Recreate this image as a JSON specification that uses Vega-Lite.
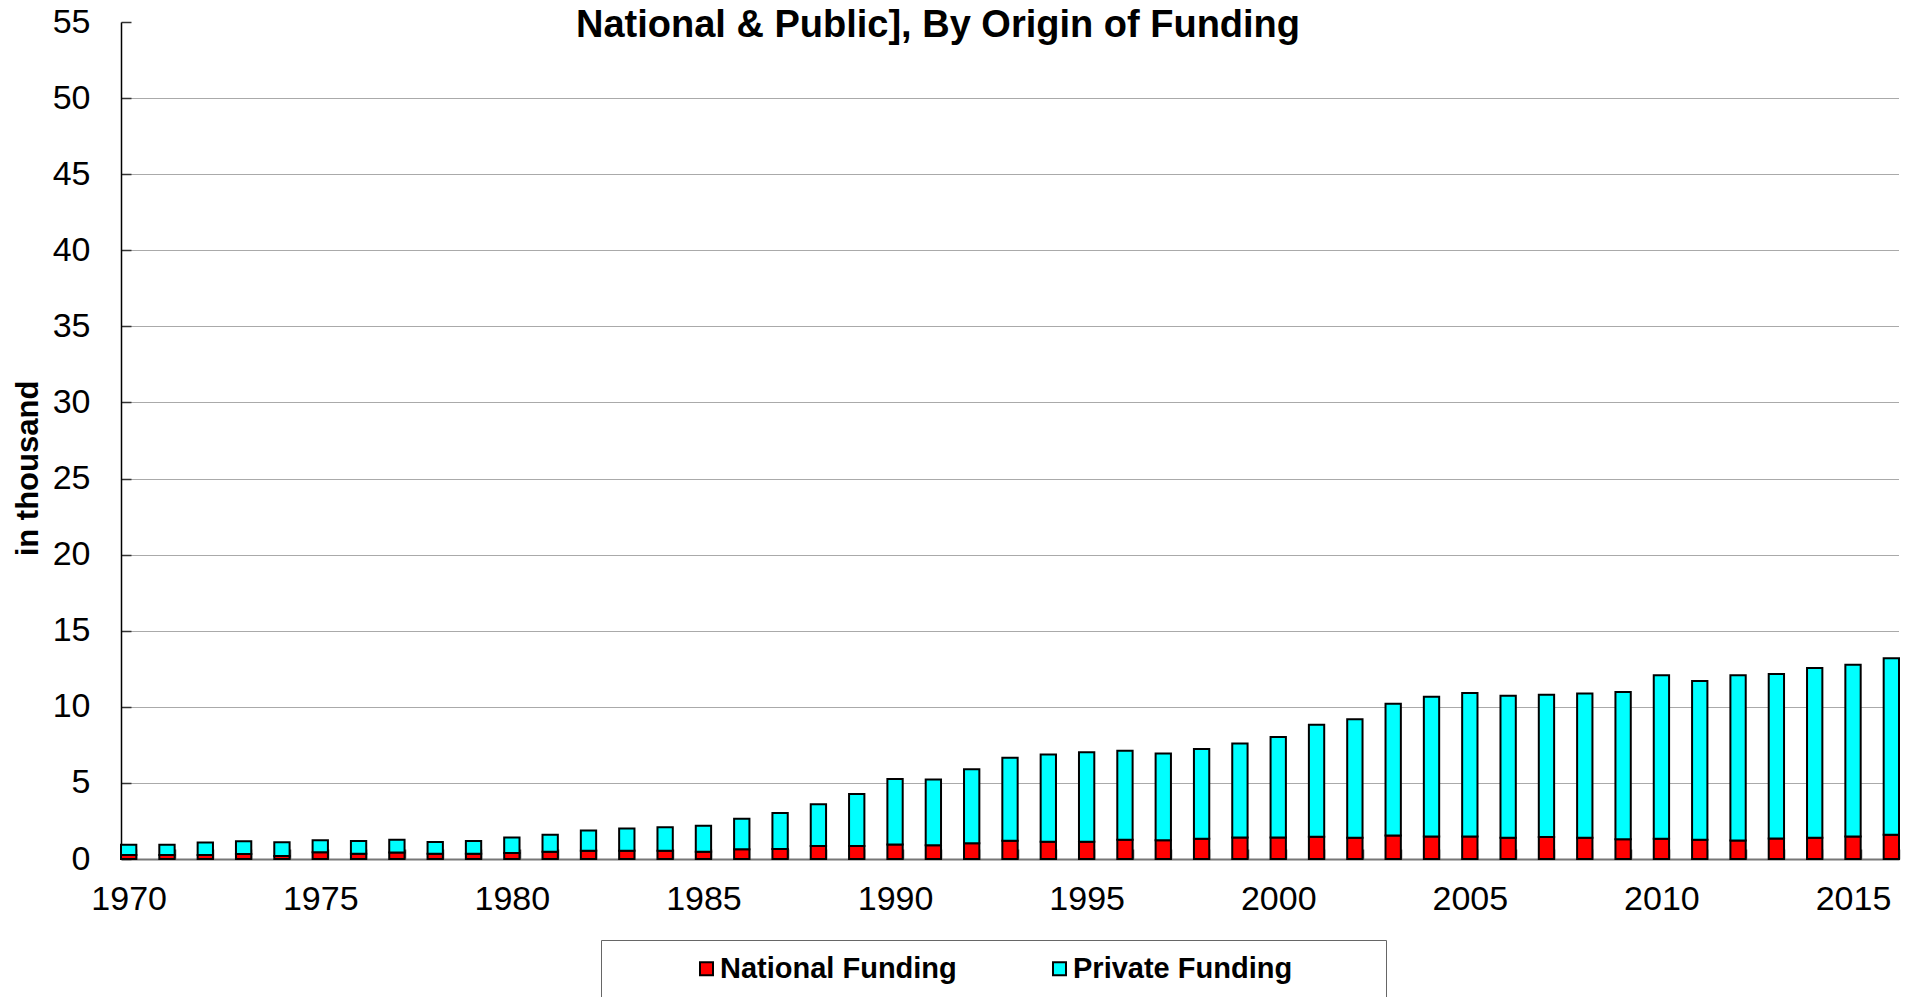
{
  "$schema": "https://vega.github.io/schema/vega-lite/v6.json",
  "width": 1778,
  "height": 837,
  "autosize": "none",
  "padding": {"left": 121, "top": 22, "right": 10, "bottom": 138},
  "background": "white",
  "title": {"text": "National & Public], By Origin of Funding", "font": "Liberation Sans", "fontSize": 38, "fontWeight": "bold", "color": "black", "anchor": "middle", "frame": "group", "baseline": "alphabetic", "offset": 0, "dy": 70, "dx": -72},
  "config": {"view": {"stroke": null}},
  "data": {"values": [
    {"year": 1970, "source": "National Funding", "value": 0.26}, {"year": 1970, "source": "Private Funding", "value": 0.67},
    {"year": 1971, "source": "National Funding", "value": 0.26}, {"year": 1971, "source": "Private Funding", "value": 0.67},
    {"year": 1972, "source": "National Funding", "value": 0.26}, {"year": 1972, "source": "Private Funding", "value": 0.82},
    {"year": 1973, "source": "National Funding", "value": 0.33}, {"year": 1973, "source": "Private Funding", "value": 0.84},
    {"year": 1974, "source": "National Funding", "value": 0.20}, {"year": 1974, "source": "Private Funding", "value": 0.90},
    {"year": 1975, "source": "National Funding", "value": 0.44}, {"year": 1975, "source": "Private Funding", "value": 0.79},
    {"year": 1976, "source": "National Funding", "value": 0.35}, {"year": 1976, "source": "Private Funding", "value": 0.84},
    {"year": 1977, "source": "National Funding", "value": 0.42}, {"year": 1977, "source": "Private Funding", "value": 0.84},
    {"year": 1978, "source": "National Funding", "value": 0.35}, {"year": 1978, "source": "Private Funding", "value": 0.77},
    {"year": 1979, "source": "National Funding", "value": 0.35}, {"year": 1979, "source": "Private Funding", "value": 0.84},
    {"year": 1980, "source": "National Funding", "value": 0.40}, {"year": 1980, "source": "Private Funding", "value": 1.01},
    {"year": 1981, "source": "National Funding", "value": 0.48}, {"year": 1981, "source": "Private Funding", "value": 1.11},
    {"year": 1982, "source": "National Funding", "value": 0.55}, {"year": 1982, "source": "Private Funding", "value": 1.32},
    {"year": 1983, "source": "National Funding", "value": 0.55}, {"year": 1983, "source": "Private Funding", "value": 1.45},
    {"year": 1984, "source": "National Funding", "value": 0.55}, {"year": 1984, "source": "Private Funding", "value": 1.54},
    {"year": 1985, "source": "National Funding", "value": 0.48}, {"year": 1985, "source": "Private Funding", "value": 1.70},
    {"year": 1986, "source": "National Funding", "value": 0.64}, {"year": 1986, "source": "Private Funding", "value": 2.00},
    {"year": 1987, "source": "National Funding", "value": 0.65}, {"year": 1987, "source": "Private Funding", "value": 2.37},
    {"year": 1988, "source": "National Funding", "value": 0.85}, {"year": 1988, "source": "Private Funding", "value": 2.74},
    {"year": 1989, "source": "National Funding", "value": 0.85}, {"year": 1989, "source": "Private Funding", "value": 3.42},
    {"year": 1990, "source": "National Funding", "value": 0.96}, {"year": 1990, "source": "Private Funding", "value": 4.29},
    {"year": 1991, "source": "National Funding", "value": 0.90}, {"year": 1991, "source": "Private Funding", "value": 4.33},
    {"year": 1992, "source": "National Funding", "value": 1.03}, {"year": 1992, "source": "Private Funding", "value": 4.86},
    {"year": 1993, "source": "National Funding", "value": 1.20}, {"year": 1993, "source": "Private Funding", "value": 5.45},
    {"year": 1994, "source": "National Funding", "value": 1.14}, {"year": 1994, "source": "Private Funding", "value": 5.73},
    {"year": 1995, "source": "National Funding", "value": 1.14}, {"year": 1995, "source": "Private Funding", "value": 5.88},
    {"year": 1996, "source": "National Funding", "value": 1.27}, {"year": 1996, "source": "Private Funding", "value": 5.84},
    {"year": 1997, "source": "National Funding", "value": 1.23}, {"year": 1997, "source": "Private Funding", "value": 5.71},
    {"year": 1998, "source": "National Funding", "value": 1.33}, {"year": 1998, "source": "Private Funding", "value": 5.89},
    {"year": 1999, "source": "National Funding", "value": 1.42}, {"year": 1999, "source": "Private Funding", "value": 6.17},
    {"year": 2000, "source": "National Funding", "value": 1.42}, {"year": 2000, "source": "Private Funding", "value": 6.59},
    {"year": 2001, "source": "National Funding", "value": 1.47}, {"year": 2001, "source": "Private Funding", "value": 7.35},
    {"year": 2002, "source": "National Funding", "value": 1.40}, {"year": 2002, "source": "Private Funding", "value": 7.79},
    {"year": 2003, "source": "National Funding", "value": 1.55}, {"year": 2003, "source": "Private Funding", "value": 8.65},
    {"year": 2004, "source": "National Funding", "value": 1.48}, {"year": 2004, "source": "Private Funding", "value": 9.18},
    {"year": 2005, "source": "National Funding", "value": 1.48}, {"year": 2005, "source": "Private Funding", "value": 9.42},
    {"year": 2006, "source": "National Funding", "value": 1.40}, {"year": 2006, "source": "Private Funding", "value": 9.32},
    {"year": 2007, "source": "National Funding", "value": 1.44}, {"year": 2007, "source": "Private Funding", "value": 9.35},
    {"year": 2008, "source": "National Funding", "value": 1.40}, {"year": 2008, "source": "Private Funding", "value": 9.47},
    {"year": 2009, "source": "National Funding", "value": 1.29}, {"year": 2009, "source": "Private Funding", "value": 9.69},
    {"year": 2010, "source": "National Funding", "value": 1.33}, {"year": 2010, "source": "Private Funding", "value": 10.74},
    {"year": 2011, "source": "National Funding", "value": 1.27}, {"year": 2011, "source": "Private Funding", "value": 10.43},
    {"year": 2012, "source": "National Funding", "value": 1.22}, {"year": 2012, "source": "Private Funding", "value": 10.85},
    {"year": 2013, "source": "National Funding", "value": 1.35}, {"year": 2013, "source": "Private Funding", "value": 10.81},
    {"year": 2014, "source": "National Funding", "value": 1.40}, {"year": 2014, "source": "Private Funding", "value": 11.15},
    {"year": 2015, "source": "National Funding", "value": 1.48}, {"year": 2015, "source": "Private Funding", "value": 11.29},
    {"year": 2016, "source": "National Funding", "value": 1.59}, {"year": 2016, "source": "Private Funding", "value": 11.60}
  ]},
  "mark": {"type": "bar", "stroke": "black", "strokeWidth": 2},
  "encoding": {
    "x": {
      "field": "year", "type": "ordinal",
      "scale": {"paddingInner": 0.6, "paddingOuter": 0},
      "axis": {
        "title": null,
        "labelExpr": "datum.value % 5 == 0 ? datum.label : ''",
        "labelAngle": 0,
        "labelOverlap": false,
        "labelFont": "Liberation Sans",
        "labelFontSize": 34,
        "labelColor": "black",
        "labelPadding": 33,
        "tickBand": "extent",
        "tickSize": -10,
        "tickColor": "#555",
        "tickWidth": 1.5,
        "domainColor": "#777",
        "domainWidth": 2,
        "grid": false
      }
    },
    "y": {
      "field": "value", "type": "quantitative", "stack": "zero",
      "scale": {"domain": [0, 55], "nice": false},
      "axis": {
        "title": "in thousand",
        "titleFont": "Liberation Sans",
        "titleFontWeight": "bold",
        "titleFontSize": 31,
        "titleColor": "black",
        "titleAngle": -90,
        "titleX": -93,
        "titleY": 446,
        "titleAlign": "center",
        "titleBaseline": "middle",
        "values": [0, 5, 10, 15, 20, 25, 30, 35, 40, 45, 50, 55],
        "labelFont": "Liberation Sans",
        "labelFontSize": 34,
        "labelColor": "black",
        "labelPadding": 41,
        "tickSize": -10,
        "tickColor": "#333",
        "tickWidth": 1.5,
        "domainColor": "black",
        "domainWidth": 1.5,
        "grid": true,
        "gridColor": {"condition": {"test": "datum.value == 55 || datum.value == 0", "value": "transparent"}, "value": "#555"},
        "gridDash": [1, 1],
        "gridWidth": 1
      }
    },
    "order": {"field": "source", "sort": "ascending"},
    "color": {
      "field": "source", "type": "nominal",
      "scale": {"domain": ["National Funding", "Private Funding"], "range": ["#FF0000", "#00FFFF"]},
      "legend": {
        "title": null,
        "orient": "none",
        "legendX": 480,
        "legendY": 918,
        "direction": "horizontal",
        "strokeColor": "#666",
        "padding": 14,
        "symbolType": "square",
        "symbolSize": 169,
        "symbolStrokeColor": "black",
        "symbolStrokeWidth": 2,
        "symbolOpacity": 1,
        "symbolOffset": 77,
        "columnPadding": 11,
        "labelFont": "Liberation Sans",
        "labelFontWeight": "bold",
        "labelFontSize": 29,
        "labelColor": "black",
        "labelOffset": -1,
        "labelLimit": 0,
        "labelExpr": "datum.label == 'Private Funding' ? datum.label + '\u00a0\u00a0\u2800\u2800\u2800' : datum.label"
      }
    }
  }
}
